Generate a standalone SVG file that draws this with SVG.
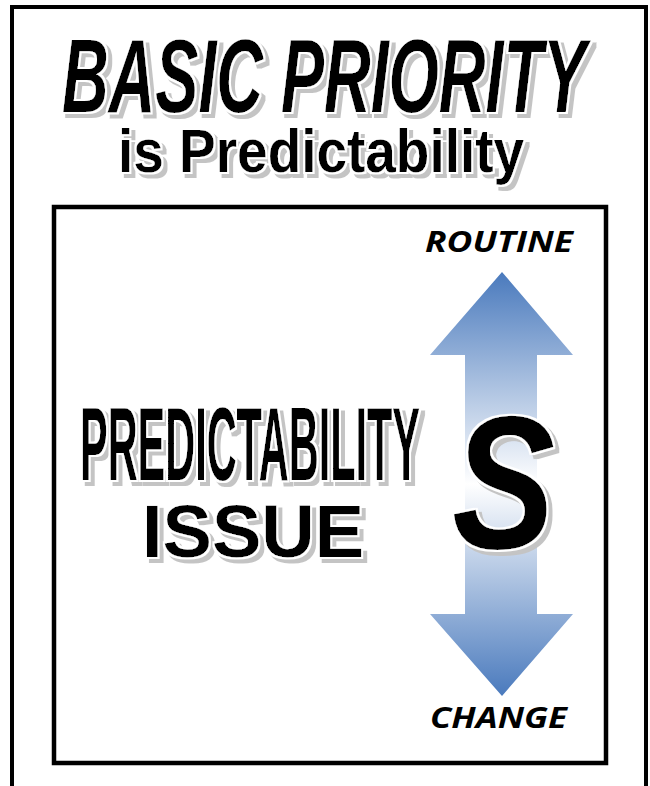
<svg xmlns="http://www.w3.org/2000/svg" width="650" height="786" viewBox="0 0 650 786">
<style>
.frame{fill:none;stroke:#000;}
.big{font-family:"Liberation Sans",Arial,sans-serif;font-weight:bold;fill:#000;}
.sh{filter:url(#shadow);}
.lbl{font-family:"Open Sans","Liberation Sans",sans-serif;font-weight:bold;font-style:italic;font-size:28px;fill:#000;}
</style>
<defs>
<linearGradient id="g" x1="0" y1="272" x2="0" y2="696" gradientUnits="userSpaceOnUse">
<stop offset="0" stop-color="#4a7abd"/>
<stop offset="0.5" stop-color="#ffffff"/>
<stop offset="1" stop-color="#4a7abd"/>
</linearGradient>
<filter id="shadow" x="-10%" y="-20%" width="125%" height="145%">
<feMorphology in="SourceAlpha" operator="dilate" radius="1.5" result="dil"/>
<feOffset in="dil" dx="4" dy="4" result="off"/>
<feFlood flood-color="#c4c4c4"/>
<feComposite in2="off" operator="in" result="gray"/>
<feFlood flood-color="#ffffff"/>
<feComposite in2="dil" operator="in" result="white"/>
<feMerge>
<feMergeNode in="gray"/>
<feMergeNode in="white"/>
<feMergeNode in="SourceGraphic"/>
</feMerge>
</filter>
</defs>
<rect id="outer" class="frame" x="12" y="7" width="634" height="800" stroke-width="4"/>
<g id="title" class="sh">
<text class="big" x="62" y="112" font-size="104" font-style="italic" textLength="524" lengthAdjust="spacingAndGlyphs">BASIC PRIORITY</text>
<text class="big" x="118" y="172" font-size="62" textLength="406" lengthAdjust="spacingAndGlyphs">is Predictability</text>
</g>
<rect id="inner" class="frame" x="54" y="207" width="552" height="556" stroke-width="4.5"/>
<g id="arrow">
<polygon points="502,272 573,355 537,355 537,614 573,614 502,696 430,614 465,614 465,355 430,355" fill="url(#g)"/>
</g>
<g id="routine"><text class="lbl" x="425" y="252" textLength="148" lengthAdjust="spacingAndGlyphs">ROUTINE</text></g>
<g id="change"><text class="lbl" x="430" y="728" textLength="137" lengthAdjust="spacingAndGlyphs">CHANGE</text></g>
<g id="issue-label" class="sh">
<text class="big" x="80" y="480" font-size="104" textLength="340" lengthAdjust="spacingAndGlyphs">PREDICTABILITY</text>
<text class="big" x="142" y="557" font-size="75" textLength="222" lengthAdjust="spacingAndGlyphs">ISSUE</text>
</g>
<g id="s" class="sh">
<text class="big" x="452" y="548" font-size="190" font-style="italic" textLength="103" lengthAdjust="spacingAndGlyphs">S</text>
</g>
</svg>
